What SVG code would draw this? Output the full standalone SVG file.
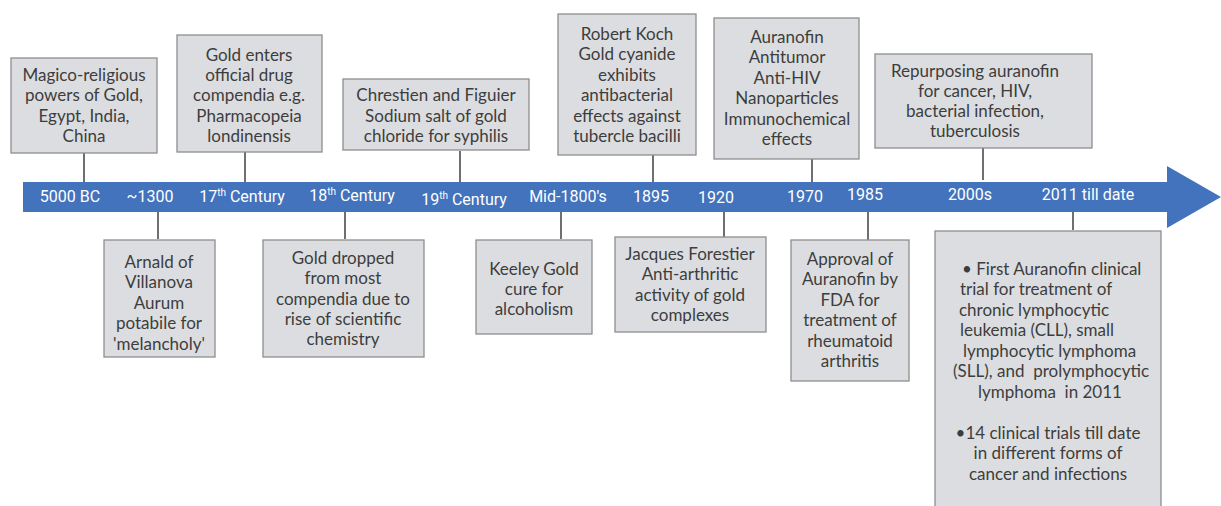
<svg xmlns="http://www.w3.org/2000/svg" width="1221" height="506" viewBox="0 0 1221 506">
<style>
.box{fill:#dcdde0;stroke:#8e8e8e;stroke-width:1.3}
.t{font-family:Lato,"Open Sans","Liberation Sans",sans-serif;font-size:17px;fill:#3d3d3d;text-anchor:middle}
.s{text-anchor:start}
.d{font-family:Roboto,"Liberation Sans",sans-serif;font-size:16px;fill:#ffffff;text-anchor:middle}
.c{stroke:#222;stroke-width:1.3;fill:none}
</style>
<rect width="1221" height="506" fill="#ffffff"/>
<g id="timeline">
<polygon points="23,182 1167,182 1167,166 1221,197 1167,228 1167,212 23,212" fill="#4373bc"/>
<text class="d" x="70" y="202">5000 BC</text>
<text class="d" x="150" y="202">~1300</text>
<text class="d" x="242" y="202">17<tspan font-size="10" dy="-6">th</tspan><tspan dy="6"> Century</tspan></text>
<text class="d" x="352" y="201">18<tspan font-size="10" dy="-6">th</tspan><tspan dy="6"> Century</tspan></text>
<text class="d" x="464" y="205">19<tspan font-size="10" dy="-6">th</tspan><tspan dy="6"> Century</tspan></text>
<text class="d" x="568" y="202">Mid-1800's</text>
<text class="d" x="651" y="202">1895</text>
<text class="d" x="716" y="203">1920</text>
<text class="d" x="805" y="202">1970</text>
<text class="d" x="865" y="200">1985</text>
<text class="d" x="970" y="200">2000s</text>
<text class="d" x="1088" y="200">2011 till date</text>
</g>
<g id="connectors">
<line class="c" x1="84" y1="153" x2="84" y2="182"/>
<line class="c" x1="245" y1="152" x2="245" y2="182"/>
<line class="c" x1="460" y1="151" x2="460" y2="182"/>
<line class="c" x1="653" y1="155" x2="653" y2="182"/>
<line class="c" x1="812" y1="159" x2="812" y2="182"/>
<line class="c" x1="983" y1="148" x2="983" y2="180"/>
<line class="c" x1="158" y1="212" x2="158" y2="239"/>
<line class="c" x1="345" y1="212" x2="345" y2="239"/>
<line class="c" x1="561" y1="212" x2="561" y2="239"/>
<line class="c" x1="724" y1="212" x2="724" y2="237"/>
<line class="c" x1="868" y1="212" x2="868" y2="240"/>
<line class="c" x1="1073" y1="212" x2="1073" y2="230"/>
</g>
<g id="n-magico">
<rect class="box" x="11" y="58" width="146" height="95"/>
<text class="t" x="84" y="81">Magico-religious</text>
<text class="t" x="84" y="101">powers of Gold,</text>
<text class="t" x="84" y="122">Egypt, India,</text>
<text class="t" x="84" y="142">China</text>
</g>
<g id="n-gold-enters">
<rect class="box" x="177" y="35" width="145" height="117"/>
<text class="t" x="249" y="61">Gold enters</text>
<text class="t" x="249" y="81">official drug</text>
<text class="t" x="249" y="101">compendia e.g.</text>
<text class="t" x="249" y="122">Pharmacopeia</text>
<text class="t" x="249" y="142">londinensis</text>
</g>
<g id="n-chrestien">
<rect class="box" x="343" y="79" width="186" height="71"/>
<text class="t" x="436" y="101">Chrestien and Figuier</text>
<text class="t" x="436" y="122">Sodium salt of gold</text>
<text class="t" x="436" y="142">chloride for syphilis</text>
</g>
<g id="n-koch">
<rect class="box" x="558" y="14" width="138" height="141"/>
<text class="t" x="627" y="40">Robert Koch</text>
<text class="t" x="627" y="60">Gold cyanide</text>
<text class="t" x="627" y="81">exhibits</text>
<text class="t" x="627" y="101">antibacterial</text>
<text class="t" x="627" y="122">effects against</text>
<text class="t" x="627" y="142">tubercle bacilli</text>
</g>
<g id="n-auranofin">
<rect class="box" x="714" y="18" width="145" height="141"/>
<text class="t" x="787" y="43">Auranofin</text>
<text class="t" x="787" y="63">Antitumor</text>
<text class="t" x="787" y="84">Anti-HIV</text>
<text class="t" x="787" y="104">Nanoparticles</text>
<text class="t" x="787" y="125">Immunochemical</text>
<text class="t" x="787" y="145">effects</text>
</g>
<g id="n-repurposing">
<rect class="box" x="875" y="54" width="217" height="94"/>
<text class="t" x="975" y="77">Repurposing auranofin</text>
<text class="t" x="975" y="97">for cancer, HIV,</text>
<text class="t" x="975" y="117">bacterial infection,</text>
<text class="t" x="975" y="137">tuberculosis</text>
</g>
<g id="n-arnald">
<rect class="box" x="104" y="240" width="111" height="117"/>
<text class="t" x="159" y="268">Arnald of</text>
<text class="t" x="159" y="288">Villanova</text>
<text class="t" x="159" y="309">Aurum</text>
<text class="t" x="159" y="329">potabile for</text>
<text class="t" x="159" y="350">'melancholy'</text>
</g>
<g id="n-gold-dropped">
<rect class="box" x="263" y="240" width="161" height="117"/>
<text class="t" x="343" y="264">Gold dropped</text>
<text class="t" x="343" y="284">from most</text>
<text class="t" x="343" y="305">compendia due to</text>
<text class="t" x="343" y="325">rise of scientific</text>
<text class="t" x="343" y="345">chemistry</text>
</g>
<g id="n-keeley">
<rect class="box" x="476" y="240" width="116" height="94"/>
<text class="t" x="534" y="275">Keeley Gold</text>
<text class="t" x="534" y="295">cure for</text>
<text class="t" x="534" y="315">alcoholism</text>
</g>
<g id="n-forestier">
<rect class="box" x="615" y="237" width="151" height="95"/>
<text class="t" x="690" y="260">Jacques Forestier</text>
<text class="t" x="690" y="280">Anti-arthritic</text>
<text class="t" x="690" y="301">activity of gold</text>
<text class="t" x="690" y="321">complexes</text>
</g>
<g id="n-approval">
<rect class="box" x="791" y="240" width="118" height="141"/>
<text class="t" x="850" y="265">Approval of</text>
<text class="t" x="850" y="285">Auranofin by</text>
<text class="t" x="850" y="306">FDA for</text>
<text class="t" x="850" y="326">treatment of</text>
<text class="t" x="850" y="347">rheumatoid</text>
<text class="t" x="850" y="367">arthritis</text>
</g>
<g id="n-2011">
<rect class="box" x="935" y="231" width="226" height="280"/>
<text class="t s" x="962" y="275">• First Auranofin clinical</text>
<text class="t s" x="960" y="295">trial for treatment of</text>
<text class="t s" x="959" y="316">chronic lymphocytic</text>
<text class="t s" x="960" y="336">leukemia (CLL), small</text>
<text class="t s" x="963" y="357">lymphocytic lymphoma</text>
<text class="t s" x="953" y="377" xml:space="preserve">(SLL), and  prolymphocytic</text>
<text class="t s" x="978" y="398" xml:space="preserve">lymphoma  in 2011</text>
<text class="t" x="1048" y="439">•14 clinical trials till date</text>
<text class="t" x="1048" y="459">in different forms of</text>
<text class="t" x="1048" y="480">cancer and infections</text>
</g>
</svg>
